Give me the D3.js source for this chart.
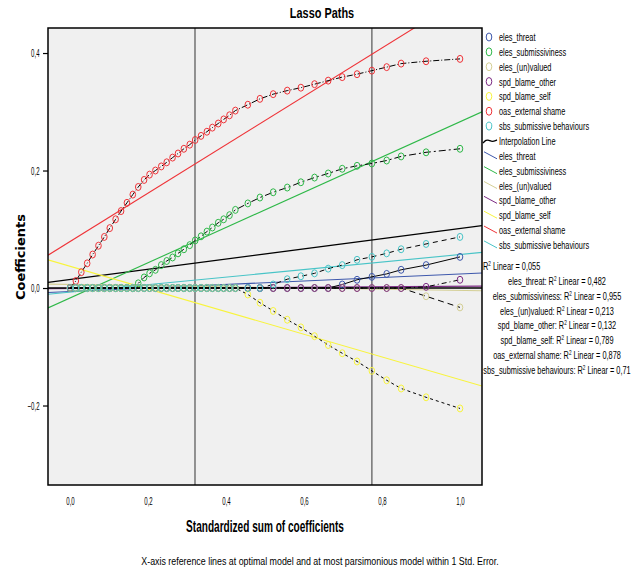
<!DOCTYPE html>
<html>
<head>
<meta charset="utf-8">
<script src="https://cdnjs.cloudflare.com/ajax/libs/d3/7.8.5/d3.min.js"></script>
<style>
    body { margin: 0; background: #fff; }
    svg text { font-family: "Liberation Sans", Arial, sans-serif; fill: #000; }
</style>
</head>
<body>
<svg id="chart" width="644" height="572"></svg>
<script>
// lasso steps (standardized sum of coefficients)
var steps = [0, 0.015, 0.029, 0.044, 0.058, 0.073, 0.088, 0.102, 0.117, 0.131,
    0.146, 0.161, 0.175, 0.19, 0.204, 0.219, 0.234, 0.248, 0.263, 0.277,
    0.292, 0.307, 0.321, 0.336, 0.351, 0.365, 0.38, 0.394, 0.409, 0.424,
    0.456, 0.487, 0.521, 0.557, 0.592, 0.627, 0.662, 0.698, 0.736, 0.774, 0.812, 0.849, 0.913, 1.0]

var seriesNames = ['eles_threat', 'eles_submissiviness', 'eles_(un)valued', 'spd_blame_other',
    'spd_blame_self', 'oas_external shame', 'sbs_submissive behaviours']
var seriesColors = ['#3e58ac', '#2eb848', '#d4cf95', '#7b2a83', '#f8f43c', '#ef3338', '#48c4c7']
var dashes = [null, '7,3,2,3', '6,4', '5,3,1,3', '3,3', '6,2,1,2', '5,4']

var elesThreat = [0, 0, 0, 0, 0, 0, 0, 0, 0, 0, 0, 0, 0, 0, 0, 0, 0, 0, 0, 0, 0, 0, 0, 0, 0, 0, 0, 0, 0, 0,
    0, 0, 0, 0, 0, 0, 0, 0.006, 0.014, 0.019, 0.024, 0.031, 0.039, 0.053]
var elesSubmissiviness = [0, 0, 0, 0, 0, 0, 0, 0, 0, 0, 0, 0, 0.008, 0.018, 0.025, 0.031, 0.039, 0.046, 0.052, 0.059,
    0.066, 0.073, 0.081, 0.088, 0.096, 0.103, 0.111, 0.117, 0.124, 0.133,
    0.144, 0.154, 0.163, 0.171, 0.180, 0.188, 0.195, 0.203, 0.208, 0.212, 0.217, 0.224, 0.231, 0.237]
var elesUnvalued = [0, 0, 0, 0, 0, 0, 0, 0, 0, 0, 0, 0, 0, 0, 0, 0, 0, 0, 0, 0, 0, 0, 0, 0, 0, 0, 0, 0, 0, 0,
    0, 0, 0, 0, 0, 0, 0, 0, 0, 0, 0, 0, -0.014, -0.033]
var spdBlameOther = [0, 0, 0, 0, 0, 0, 0, 0, 0, 0, 0, 0, 0, 0, 0, 0, 0, 0, 0, 0, 0, 0, 0, 0, 0, 0, 0, 0, 0, 0,
    0, 0, 0, 0, 0, 0, 0, 0, 0, 0, 0, 0, 0.002, 0.014]
var spdBlameSelf = [0, 0, 0, 0, 0, 0, 0, 0, 0, 0, 0, 0, 0, 0, 0, 0, 0, 0, 0, 0, 0, 0, 0, 0, 0, 0, 0, 0, 0, 0,
    -0.011, -0.025, -0.039, -0.054, -0.067, -0.082, -0.097, -0.111, -0.125, -0.141, -0.157, -0.171, -0.186, -0.205]
var oasExternalShame = [0, 0.012, 0.027, 0.042, 0.057, 0.072, 0.087, 0.102, 0.117, 0.131,
    0.145, 0.159, 0.172, 0.184, 0.193, 0.200, 0.207, 0.214, 0.222, 0.229,
    0.237, 0.244, 0.252, 0.259, 0.266, 0.273, 0.280, 0.287, 0.294, 0.302,
    0.312, 0.322, 0.330, 0.336, 0.341, 0.347, 0.353, 0.359, 0.364, 0.370, 0.376, 0.382, 0.386, 0.390]
var sbsSubmissive = [0, 0, 0, 0, 0, 0, 0, 0, 0, 0, 0, 0, 0, 0, 0, 0, 0, 0, 0, 0, 0, 0, 0, 0, 0, 0, 0, 0, 0, 0,
    0, 0, 0.006, 0.015, 0.020, 0.025, 0.033, 0.039, 0.048, 0.053, 0.059, 0.066, 0.075, 0.087]

// linear fits (intercept, slope) and R2 labels
var fitIntercepts = [-0.006, -0.017, 0.006, -0.001, 0.037, 0.079, -0.007]
var fitSlopes = [0.030, 0.300, -0.010, 0.004, -0.193, 0.412, 0.064]
var fitR2 = ['0,482', '0,955', '0,213', '0,132', '0,789', '0,878', '0,71']
var totalFit = {intercept: 0.0144, slope: 0.087, r2: '0,055'}

var xTicks = [0, 0.2, 0.4, 0.6, 0.8, 1.0]
var yTicks = [-0.2, 0, 0.2, 0.4]
var refLines = [0.3205, 0.774]

var allSeries = [elesThreat, elesSubmissiviness, elesUnvalued, spdBlameOther, spdBlameSelf, oasExternalShame, sbsSubmissive]

var svg = d3.select('#chart')
var plotL = 48, plotR = 482, plotT = 28, plotB = 485

var x = d3.scaleLinear().domain([-22 / 390, 412 / 390]).range([plotL, plotR])
var y = d3.scaleLinear().domain([-0.3353, 0.4426]).range([plotB, plotT])
var fmt = d3.formatLocale({decimal: ',', thousands: '.', grouping: [3], currency: ['', '']}).format('.1f')

// condensed text: SPSS uses a very narrow face, so squeeze horizontally
function narrow(parent, px, py, anchor, size, sx) {
    return parent.append('text')
        .attr('transform', 'translate(' + px + ',' + py + ') scale(' + sx + ',1)')
        .attr('text-anchor', anchor)
        .style('font-size', size + 'px')
}

svg.append('defs').append('clipPath').attr('id', 'plotClip')
    .append('rect').attr('x', plotL).attr('y', plotT).attr('width', plotR - plotL).attr('height', plotB - plotT)

svg.append('rect').attr('x', plotL).attr('y', plotT).attr('width', plotR - plotL).attr('height', plotB - plotT)
    .attr('fill', '#f0f0f0')

var plot = svg.append('g').attr('clip-path', 'url(#plotClip)')

// reference lines
plot.selectAll('.ref').data(refLines).enter().append('line')
    .attr('x1', function (d) { return x(d) }).attr('x2', function (d) { return x(d) })
    .attr('y1', plotT).attr('y2', plotB)
    .attr('stroke', '#7a7a7a').attr('stroke-width', 1.6)

// fit lines
var xd = x.domain()
plot.append('line')
    .attr('x1', plotL).attr('x2', plotR)
    .attr('y1', y(totalFit.intercept + totalFit.slope * xd[0]))
    .attr('y2', y(totalFit.intercept + totalFit.slope * xd[1]))
    .attr('stroke', '#000').attr('stroke-width', 1.2)
for (var i = 0; i < allSeries.length; i++) {
    plot.append('line')
        .attr('x1', plotL).attr('x2', plotR)
        .attr('y1', y(fitIntercepts[i] + fitSlopes[i] * xd[0]))
        .attr('y2', y(fitIntercepts[i] + fitSlopes[i] * xd[1]))
        .attr('stroke', seriesColors[i]).attr('stroke-width', 1.1)
}

// zero line
plot.append('line').attr('x1', plotL).attr('x2', plotR).attr('y1', y(0)).attr('y2', y(0))
    .attr('stroke', '#000').attr('stroke-width', 1.6)

// interpolation lines
var line = d3.line().x(function (d, j) { return x(steps[j]) }).y(function (d) { return y(d) })
for (var i = 0; i < allSeries.length; i++) {
    plot.append('path').attr('d', line(allSeries[i]))
        .attr('fill', 'none').attr('stroke', '#000').attr('stroke-width', 1)
        .attr('stroke-dasharray', dashes[i])
}

// markers
for (var i = 0; i < allSeries.length; i++) {
    plot.append('g').selectAll('ellipse').data(allSeries[i]).enter().append('ellipse')
        .attr('cx', function (d, j) { return x(steps[j]) })
        .attr('cy', function (d) { return y(d) })
        .attr('rx', 2.8).attr('ry', 3.5)
        .attr('fill', 'none').attr('stroke', seriesColors[i]).attr('stroke-width', 1)
}

// frame + axes
svg.append('rect').attr('x', plotL).attr('y', plotT).attr('width', plotR - plotL).attr('height', plotB - plotT)
    .attr('fill', 'none').attr('stroke', '#000').attr('stroke-width', 1.5)

var yAxis = svg.append('g').attr('transform', 'translate(' + plotL + ',0)')
    .call(d3.axisLeft(y).tickValues(yTicks).tickSize(5).tickFormat(fmt))
yAxis.select('.domain').remove()
yAxis.selectAll('line').attr('stroke', '#000').attr('stroke-width', 1.2)
yAxis.selectAll('text').style('font-size', '11px').attr('x', -8.5 / 0.55).attr('transform', 'scale(0.55,1)')

var xAxis = svg.append('g').attr('transform', 'translate(0,' + plotB + ')')
    .call(d3.axisBottom(x).tickValues(xTicks).tickSize(0).tickPadding(12).tickFormat(fmt))
xAxis.select('.domain').remove()
xAxis.selectAll('text').style('font-size', '11px').attr('transform', 'scale(0.55,1)')

// titles
narrow(svg, 322, 18, 'middle', 14, 0.78).style('font-weight', 'bold').text('Lasso Paths')
narrow(svg, 265, 532, 'middle', 16, 0.63).style('font-weight', 'bold').text('Standardized sum of coefficients')
svg.append('text').attr('transform', 'translate(25,257) rotate(-90)').attr('text-anchor', 'middle')
    .style('font-size', '13px').style('font-weight', 'bold').style('font-family', '"DejaVu Sans", sans-serif')
    .text('Coefficients')
narrow(svg, 320, 565, 'middle', 11.5, 0.77)
    .text('X-axis reference lines at optimal model and at most parsimonious model within 1 Std. Error.')

// legend
var legend = svg.append('g')
var ly = 37, lstep = 14.85, lsx = 0.67
for (var i = 0; i < seriesNames.length; i++) {
    legend.append('ellipse').attr('cx', 489).attr('cy', ly + i * lstep).attr('rx', 2.8).attr('ry', 4)
        .attr('fill', 'none').attr('stroke', seriesColors[i]).attr('stroke-width', 1)
    narrow(legend, 499, ly + i * lstep + 4, 'start', 11, lsx).text(seriesNames[i])
}
var iy = ly + 7 * lstep
legend.append('path')
    .attr('d', d3.line().curve(d3.curveBasis)([[483, iy + 2], [486, iy - 1], [489, iy - 1], [492, iy + 1], [497, iy - 1]]))
    .attr('fill', 'none').attr('stroke', '#000').attr('stroke-width', 1.3)
narrow(legend, 499, iy + 4, 'start', 11, lsx).text('Interpolation Line')
for (var i = 0; i < seriesNames.length; i++) {
    var yy = ly + (8 + i) * lstep
    legend.append('line').attr('x1', 484).attr('x2', 497).attr('y1', yy - 4).attr('y2', yy + 3)
        .attr('stroke', seriesColors[i]).attr('stroke-width', 1)
    narrow(legend, 499, yy + 4, 'start', 11, lsx).text(seriesNames[i])
}

// R2 labels
function r2Label(sel, prefix, value) {
    sel.append('tspan').text(prefix + 'R')
    sel.append('tspan').attr('dy', -4).style('font-size', '7px').text('2')
    sel.append('tspan').attr('dy', 4).text(' Linear = ' + value)
}
var r2y = 270
r2Label(narrow(svg, 483, r2y, 'start', 11, lsx), '', totalFit.r2)
for (var i = 0; i < seriesNames.length; i++) {
    r2Label(narrow(svg, 557, r2y + (i + 1) * 14.85, 'middle', 11, lsx), seriesNames[i] + ': ', fitR2[i])
}
</script>
</body>
</html>
